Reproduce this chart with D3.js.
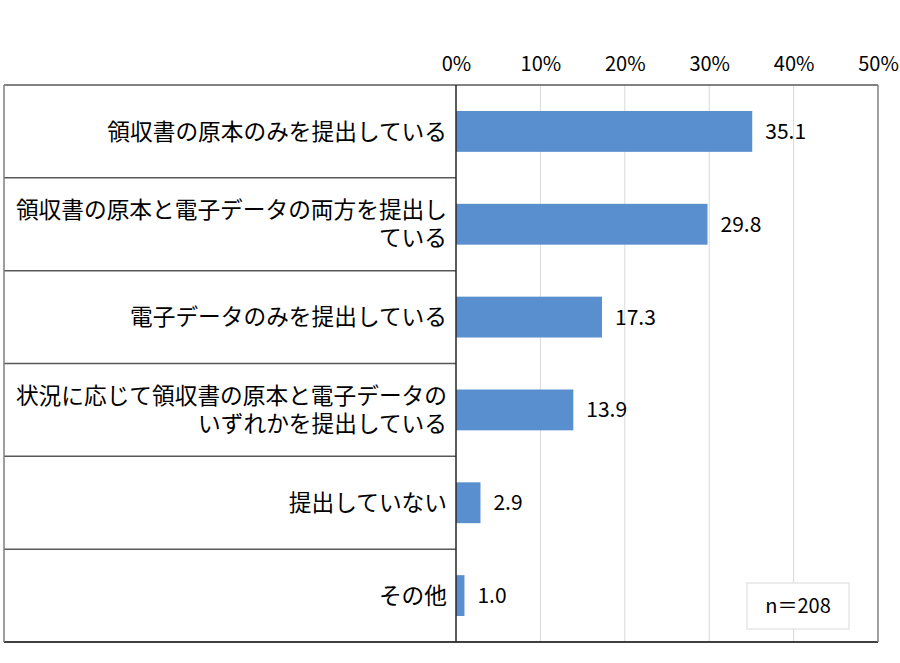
<!DOCTYPE html>
<html>
<head>
<meta charset="utf-8">
<script src="https://cdn.jsdelivr.net/npm/d3@7"></script>
<style>
  body { margin: 0; background: #fff; }
  svg text { font-family: "Noto Sans CJK JP", "Noto Sans", sans-serif; fill: #000; }
</style>
</head>
<body>
<div class="chart"></div>
<script>
// categories (each entry = lines of the label)
var categories = [
    ["領収書の原本のみを提出している"],
    ["領収書の原本と電子データの両方を提出し", "ている"],
    ["電子データのみを提出している"],
    ["状況に応じて領収書の原本と電子データの", "いずれかを提出している"],
    ["提出していない"],
    ["その他"]
];
var values = [35.1, 29.8, 17.3, 13.9, 2.9, 1.0];
var ticks = [0, 10, 20, 30, 40, 50];
var sampleNote = "n＝208";

var width = 900, height = 663;
var frameLeft = 4, plotLeft = 456, plotRight = 878, plotTop = 85, plotBottom = 642;

var svg = d3.select(".chart").append("svg")
    .attr("width", width)
    .attr("height", height);

var keys = categories.map(function (d, i) { return i; });

var x = d3.scaleLinear().domain([0, 50]).range([plotLeft, plotRight]);

// rows of the table on the left
var rowY = d3.scaleBand().domain(keys).range([plotTop, plotBottom]);

// bars inside each row
var y = d3.scaleBand().domain(keys).range([plotTop, plotBottom])
    .paddingInner(0.56).paddingOuter(0.28);

// gridlines
svg.append("g")
    .selectAll("line")
    .data(ticks.slice(1, -1))
    .enter().append("line")
    .attr("x1", function (d) { return x(d); })
    .attr("x2", function (d) { return x(d); })
    .attr("y1", plotTop)
    .attr("y2", plotBottom)
    .attr("stroke", "#d9d9d9")
    .attr("stroke-width", 1);

// top axis labels
var axis = d3.axisTop(x)
    .tickValues(ticks)
    .tickSize(0)
    .tickFormat(function (d) { return d + "%"; });

var axisG = svg.append("g")
    .attr("transform", "translate(0," + (plotTop - 11) + ")")
    .call(axis);
axisG.select(".domain").remove();
axisG.selectAll("text")
    .style("font-size", "20px")
    .attr("dy", 0);

// row separators on the left
svg.append("g")
    .selectAll("line")
    .data(keys.slice(1))
    .enter().append("line")
    .attr("x1", frameLeft)
    .attr("x2", plotLeft)
    .attr("y1", function (d) { return rowY(d); })
    .attr("y2", function (d) { return rowY(d); })
    .attr("stroke", "#595959")
    .attr("stroke-width", 1.5);

// bars
svg.append("g")
    .selectAll("rect")
    .data(values)
    .enter().append("rect")
    .attr("x", x(0))
    .attr("y", function (d, i) { return y(i); })
    .attr("width", function (d) { return x(d) - x(0); })
    .attr("height", y.bandwidth())
    .attr("fill", "#5a8fcf");

// value labels
svg.append("g")
    .selectAll("text")
    .data(values)
    .enter().append("text")
    .attr("x", function (d) { return x(d) + 13; })
    .attr("y", function (d, i) { return y(i) + y.bandwidth() / 2; })
    .attr("dy", "0.36em")
    .style("font-size", "21px")
    .text(function (d) { return d.toFixed(1); });

// category labels
var lineH = 28;
var labels = svg.append("g")
    .selectAll("text")
    .data(categories)
    .enter().append("text")
    .attr("text-anchor", "end")
    .style("font-size", "22.7px");

labels.selectAll("tspan")
    .data(function (d, i) {
        return d.map(function (t, j) { return { t: t, j: j, n: d.length, i: i }; });
    })
    .enter().append("tspan")
    .attr("x", plotLeft - 9)
    .attr("y", function (d) {
        var c = rowY(d.i) + rowY.bandwidth() / 2;
        return c + (d.j - (d.n - 1) / 2) * lineH;
    })
    .attr("dy", "0.36em")
    .text(function (d) { return d.t; });

// frame
svg.append("line")
    .attr("x1", frameLeft).attr("x2", plotRight)
    .attr("y1", plotTop).attr("y2", plotTop)
    .attr("stroke", "#595959").attr("stroke-width", 1.5);
svg.append("line")
    .attr("x1", frameLeft).attr("x2", plotRight)
    .attr("y1", plotBottom).attr("y2", plotBottom)
    .attr("stroke", "#000").attr("stroke-width", 1.5);
svg.append("line")
    .attr("x1", frameLeft).attr("x2", frameLeft)
    .attr("y1", plotTop).attr("y2", plotBottom)
    .attr("stroke", "#7f7f7f").attr("stroke-width", 1.5);
svg.append("line")
    .attr("x1", plotRight).attr("x2", plotRight)
    .attr("y1", plotTop).attr("y2", plotBottom)
    .attr("stroke", "#7f7f7f").attr("stroke-width", 1.5);
svg.append("line")
    .attr("x1", x(0)).attr("x2", x(0))
    .attr("y1", plotTop).attr("y2", plotBottom)
    .attr("stroke", "#262626").attr("stroke-width", 1.5);

// sample size box
var note = svg.append("g");
note.append("rect")
    .attr("x", 747).attr("y", 583)
    .attr("width", 102).attr("height", 46)
    .attr("fill", "#fff")
    .attr("stroke", "#d9d9d9");
note.append("text")
    .attr("x", 798).attr("y", 606)
    .attr("dy", "0.36em")
    .attr("text-anchor", "middle")
    .style("font-size", "20px")
    .text(sampleNote);
</script>
</body>
</html>
